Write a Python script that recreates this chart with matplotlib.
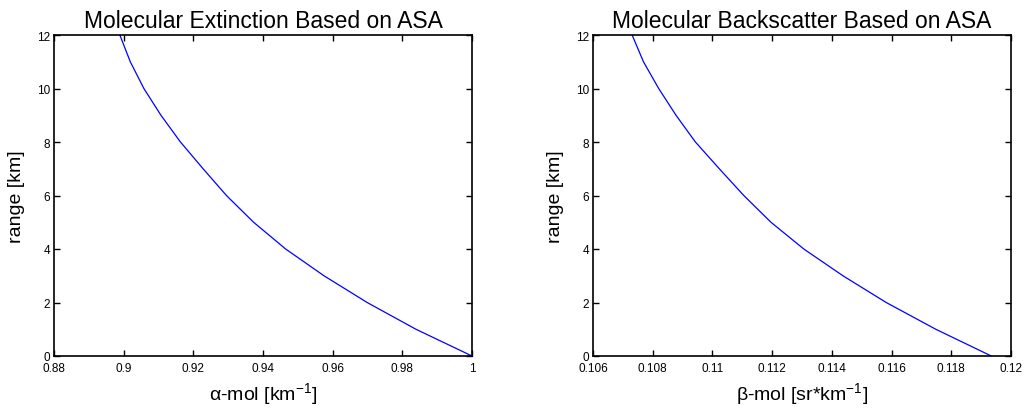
import matplotlib
matplotlib.use("Agg")
import matplotlib.pyplot as plt

plt.rcParams['font.family'] = ['Liberation Sans', 'DejaVu Sans']
plt.rcParams['mathtext.fontset'] = 'custom'
plt.rcParams['mathtext.rm'] = 'Liberation Sans'
plt.rcParams['mathtext.it'] = 'Liberation Sans:italic'

# range [km]
height = [0, 1, 2, 3, 4, 5, 6, 7, 8, 9, 10, 11, 12]
# molecular extinction [km^-1]
alpha_mol = [1.0, 0.9839, 0.9699, 0.9575, 0.9465, 0.9373, 0.9295,
             0.9228, 0.9163, 0.9107, 0.9058, 0.9019, 0.8989]
# molecular backscatter [sr*km^-1]
beta_mol = [0.11934, 0.11748, 0.11582, 0.11437, 0.11306, 0.11196, 0.11105,
            0.11023, 0.10943, 0.10878, 0.10820, 0.10769, 0.10731]

alpha_ticks = [0.88, 0.9, 0.92, 0.94, 0.96, 0.98, 1]
alpha_ticklabels = ["0.88", "0.9", "0.92", "0.94", "0.96", "0.98", "1"]
beta_ticks = [0.106, 0.108, 0.11, 0.112, 0.114, 0.116, 0.118, 0.12]
beta_ticklabels = ["0.106", "0.108", "0.11", "0.112", "0.114", "0.116", "0.118", "0.12"]
range_ticks = [0, 2, 4, 6, 8, 10, 12]

fig = plt.figure(figsize=(10.26, 4.10), dpi=100)
ax1 = fig.add_axes([54/1026, 53/410, 418/1026, 321/410])
ax2 = fig.add_axes([593/1026, 53/410, 418/1026, 321/410])


def style(ax, title, xlabel, xticks, xticklabels, xlim):
    ax.set_xlim(xlim)
    ax.set_ylim(0, 12)
    ax.set_xticks(xticks)
    ax.set_xticklabels(xticklabels)
    ax.set_yticks(range_ticks)
    ax.tick_params(direction="in", length=4, width=1, labelsize=8.5,
                   top=True, right=True)
    ax.tick_params(axis="x", pad=4)
    ax.tick_params(axis="y", pad=3)
    for sp in ax.spines.values():
        sp.set_linewidth(1.2)
    ax.set_title(title, fontsize=16.5, pad=6)
    ax.set_xlabel(xlabel, fontsize=14, labelpad=5)
    ax.set_ylabel("range [km]", fontsize=14, labelpad=8)


ax1.plot(alpha_mol, height, color="#0000ff", linewidth=0.9)
style(ax1, "Molecular Extinction Based on ASA", r"α-mol [km$^{-1}$]",
      alpha_ticks, alpha_ticklabels, (0.88, 1.0))

ax2.plot(beta_mol, height, color="#0000ff", linewidth=0.9)
style(ax2, "Molecular Backscatter Based on ASA", r"β-mol [sr*km$^{-1}$]",
      beta_ticks, beta_ticklabels, (0.106, 0.12))

fig.savefig("out.png", dpi=100)
